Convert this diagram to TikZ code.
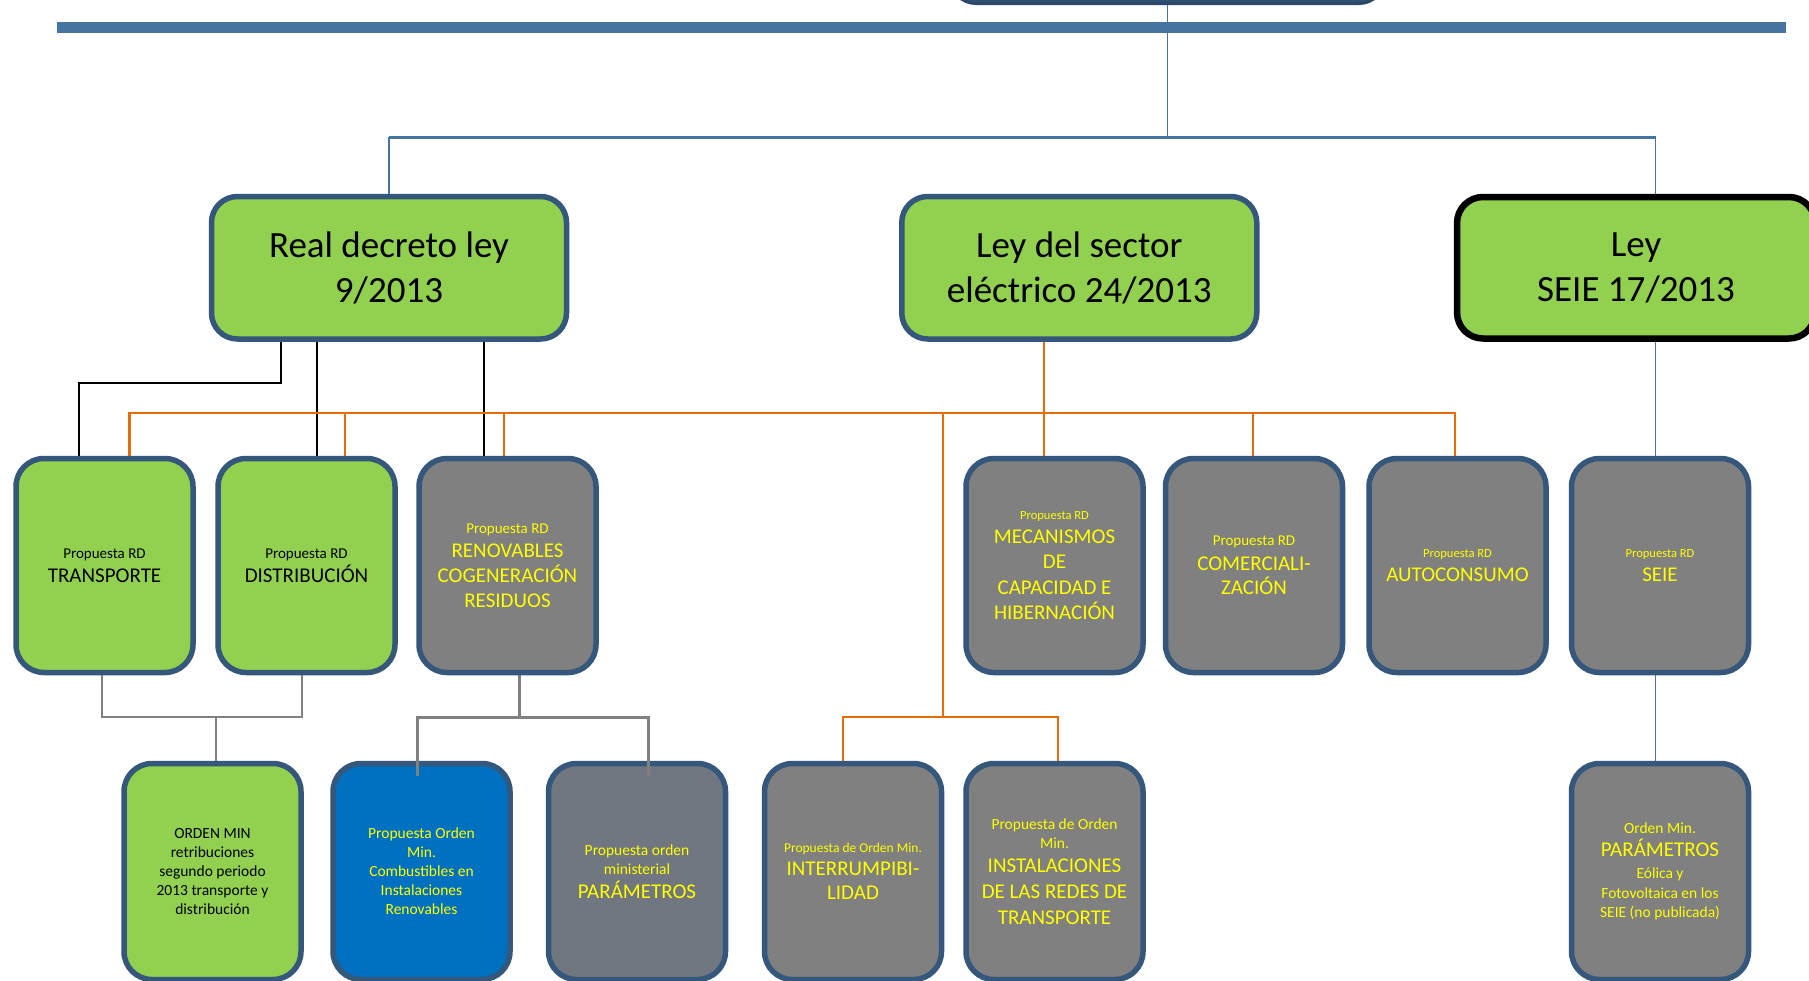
\documentclass[tikz,border=0pt]{standalone}
\usepackage{fontspec}
\setmainfont{Carlito}
\pgfdeclarelayer{bg}
\pgfsetlayers{bg,main}
\definecolor{grn}{HTML}{92D050}
\definecolor{bord}{HTML}{35577B}
\definecolor{gry}{HTML}{808080}
\definecolor{pgry}{HTML}{717780}
\definecolor{blu}{HTML}{0070C0}
\definecolor{yel}{HTML}{FFFF00}
\definecolor{org}{HTML}{E46C0A}
\definecolor{lblue}{HTML}{4674A1}
\definecolor{dkblue}{HTML}{2F5072}
\definecolor{dkbord}{HTML}{2B4868}
\definecolor{gline}{HTML}{808080}
\newcommand\fpa{\fontsize{15}{18}\selectfont}
\newcommand\fpb{\fontsize{12.5}{15}\selectfont}
\newcommand\fbig{\fontsize{21}{24}\selectfont}
\newcommand\fsm{\fontsize{15.5}{19}\selectfont}
\newcommand\fti{\fontsize{13.5}{16}\selectfont}
\tikzset{
  lone/.style={rectangle, rounded corners=26pt, draw=bord, line width=5.5pt, fill=grn,
    minimum width=355pt, minimum height=142.5pt, inner sep=0pt, align=center,
    font=\fontsize{37}{44.5}\selectfont},
  ltwo/.style={rectangle, rounded corners=28pt, draw=bord, line width=5.5pt,
    minimum width=177pt, minimum height=214pt, inner sep=0pt, align=center, font=\fbig},
  lthree/.style={ltwo, minimum height=216pt},
  gbox/.style={fill=grn, text=black},
  ybox/.style={fill=gry, text=yel},
  bline/.style={draw=lblue, line width=1.6pt},
  blk/.style={draw=black, line width=2pt},
  oline/.style={draw=org, line width=2.5pt},
  gconn/.style={draw=gline, line width=2pt},
  gconnb/.style={draw=gline, line width=3pt}
}
\begin{document}
\begin{tikzpicture}[x=1pt,y=-1pt]
\useasboundingbox (0,0) rectangle (1809,980);
\clip (0,0) rectangle (1809,980);

% top (partially visible) box and bar
\node[rectangle, rounded corners=26pt, fill=dkblue, draw=dkbord, line width=3pt,
  minimum width=435pt, minimum height=62pt, inner sep=0pt] (top) at (1167.5,-27.5) {};
\node[fill=lblue, minimum width=1729pt, minimum height=11pt, inner sep=0pt, outer sep=0pt] (bar) at (921.5,27.5) {};

% level 1
\node[lone] (rd) at (389,267.75) {Real decreto ley\\9/2013};
\node[lone] (ley) at (1079.25,267.75) {Ley del sector\\eléctrico 24/2013};
\node[lone, draw=black, line width=6.5pt, minimum width=358pt, minimum height=141.5pt] (seie1) at (1636,267.75) {Ley\\SEIE 17/2013};

% level 2
\node[ltwo, gbox] (tr) at (104.5,565.5) {{\fpa Propuesta RD}\\TRANSPORTE};
\node[ltwo, gbox] (di) at (306.5,565.5) {{\fpa Propuesta RD}\\DISTRIBUCIÓN};
\node[ltwo, ybox, font=\fontsize{21}{24.6}\selectfont] (re) at (507.5,565.5) {{\fpa Propuesta RD}\\RENOVABLES\\COGENERACIÓN\\RESIDUOS};
\node[ltwo, ybox, font=\fontsize{21}{25.6}\selectfont] (me) at (1054.5,565.5) {{\fpb Propuesta RD}\\[-1.6pt]MECANISMOS\\DE\\CAPACIDAD E\\HIBERNACIÓN};
\node[ltwo, ybox, font=\fontsize{21}{24.5}\selectfont] (co) at (1254,565.5) {{\fpa Propuesta RD}\\COMERCIALI-\\ZACIÓN};
\node[ltwo, ybox] (au) at (1457.5,565.5) {{\fpb Propuesta RD}\\AUTOCONSUMO};
\node[ltwo, ybox] (se) at (1660,565.5) {{\fpb Propuesta RD}\\SEIE};

% level 3
\node[lthree, gbox, font=\fsm] (om) at (212.5,871.5) {ORDEN MIN\\retribuciones\\segundo periodo\\2013 transporte y\\distribución};
\node[lthree, fill=blu, text=yel, font=\fsm] (bl) at (421.5,871.5) {Propuesta Orden\\Min.\\Combustibles en\\Instalaciones\\Renovables};
\node[lthree, fill=pgry, text=yel, font=\fontsize{15.5}{18.7}\selectfont] (pa) at (637,871.5) {Propuesta orden\\ministerial\\[5.3pt]{\fbig PARÁMETROS}};
\node[lthree, ybox] (in) at (853,871.5) {{\fti Propuesta de Orden Min.}\\[-1.3pt]INTERRUMPIBI-\\LIDAD};
\node[lthree, ybox, font=\fontsize{15.5}{18.7}\selectfont] (is) at (1054.5,871.5) {Propuesta de Orden\\Min.\\[5.3pt]{\fbig INSTALACIONES}\\[7.3pt]{\fbig DE LAS REDES DE}\\[7.3pt]{\fbig TRANSPORTE}};
\node[lthree, ybox, font=\fontsize{15.5}{19.5}\selectfont] (sp) at (1660,871.5) {Orden Min.\\[3.5pt]{\fbig PARÁMETROS}\\[2.5pt]Eólica y\\Fotovoltaica en los\\SEIE (no publicada)};

% junction coordinates
\coordinate (hub) at (1167.5,137);
\coordinate (hl) at (388.8,137);
\coordinate (hr) at (1655.5,137);
\coordinate (bA) at (280.7,383);
\coordinate (bB) at (79,383);
\coordinate (bC) at (317,400);
\coordinate (bD) at (484,400);
\coordinate (oH1) at (129.5,413);
\coordinate (oH2) at (1455,413);
\coordinate (o2) at (345,413);
\coordinate (o3) at (504,413);
\coordinate (o5) at (1253,413);
\coordinate (oM) at (1044,413);
\coordinate (o7) at (943,413);
\coordinate (oT) at (943,717);
\coordinate (oL) at (843,717);
\coordinate (oR) at (1058,717);
\coordinate (gA) at (101.5,717);
\coordinate (gB) at (302,717);
\coordinate (gC) at (216,717);
\coordinate (gD) at (519,717);
\coordinate (gE) at (417,717);
\coordinate (gF) at (648,717);
\coordinate (gE2) at (417,776);
\coordinate (gF2) at (648,776);

\begin{pgfonlayer}{bg}
\fill[white] (0,0) rectangle (1809,980);
% blue tree
\draw[bline, line width=3pt] (hl) -- (hr);
\draw[bline] (hl) -- (hl |- rd.north);
\draw[bline] (hr) -- (hr |- seie1.north);
\draw[bline] (hr |- seie1.south) -- (hr |- se.north);
\draw[bline] (hr |- se.south) -- (hr |- sp.north);
% black
\draw[blk] (rd.south -| bA) -- (bA) -- (bB) -- (bB |- tr.north);
\draw[blk] (rd.south -| bC) -- (bC |- di.north);
\draw[blk] (rd.south -| bD) -- (bD |- re.north);
% orange
\draw[oline] (oH1 |- tr.north) -- (oH1) -- (oH2) -- (oH2 |- au.north);
\draw[oline] (o2) -- (o2 |- di.north);
\draw[oline] (o3) -- (o3 |- re.north);
\draw[oline] (o5) -- (o5 |- co.north);
\draw[oline] (ley.south -| oM) -- (oM |- me.north);
\draw[oline] (o7) -- (oT);
\draw[oline] (oL |- in.north) -- (oL) -- (oR) -- (oR |- is.north);
% grey
\draw[gconn] (tr.south -| gA) -- (gA) -- (gB) -- (di.south -| gB);
\draw[gconn] (gC) -- (gC |- om.north);
\draw[gconnb] (re.south -| gD) -- (gD);
\end{pgfonlayer}
\draw[gconnb] (gE2) -- (gE) -- (gF) -- (gF2);
\draw[bline] (top.south) -- (top.south |- hub);
\end{tikzpicture}
\end{document}
